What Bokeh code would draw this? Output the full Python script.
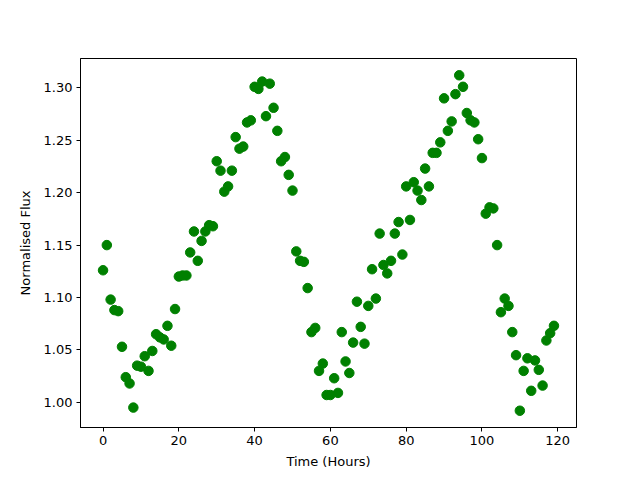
from bokeh.plotting import figure
from bokeh.models import Range1d, FixedTicker, NumeralTickFormatter, ColumnDataSource
from bokeh.embed import file_html
from bokeh.resources import INLINE

hours = list(range(120))
flux = [
    1.126, 1.150, 1.098, 1.088, 1.087, 1.053, 1.024, 1.018, 0.995, 1.035,
    1.034, 1.044, 1.030, 1.049, 1.065, 1.062, 1.060, 1.073, 1.054, 1.089,
    1.120, 1.121, 1.121, 1.143, 1.163, 1.135, 1.154, 1.163, 1.169, 1.168,
    1.230, 1.221, 1.201, 1.206, 1.221, 1.253, 1.242, 1.244, 1.267, 1.269,
    1.301, 1.299, 1.306, 1.273, 1.304, 1.281, 1.259, 1.230, 1.234, 1.217,
    1.202, 1.144, 1.135, 1.134, 1.109, 1.067, 1.071, 1.030, 1.037, 1.007,
    1.007, 1.023, 1.009, 1.067, 1.039, 1.028, 1.057, 1.096, 1.072, 1.056,
    1.092, 1.127, 1.099, 1.161, 1.131, 1.123, 1.135, 1.161, 1.172, 1.141,
    1.206, 1.174, 1.210, 1.202, 1.193, 1.223, 1.206, 1.238, 1.238, 1.248,
    1.290, 1.259, 1.268, 1.294, 1.312, 1.301, 1.276, 1.269, 1.267, 1.251,
    1.233, 1.180, 1.186, 1.185, 1.150, 1.086, 1.099, 1.092, 1.067, 1.045,
    0.992, 1.030, 1.042, 1.011, 1.040, 1.031, 1.016, 1.059, 1.066, 1.073,
]
x_ticks = [0, 20, 40, 60, 80, 100, 120]
y_ticks = [1.00, 1.05, 1.10, 1.15, 1.20, 1.25, 1.30]

src = ColumnDataSource(dict(x=hours, y=flux))

p = figure(width=640, height=480, output_backend="svg", toolbar_location=None,
           x_range=Range1d(-5.95, 124.95), y_range=Range1d(0.976, 1.328),
           min_border_left=80, min_border_right=64, min_border_top=58, min_border_bottom=53)
p.scatter("x", "y", source=src, size=9.5, color="#008000")

p.xgrid.visible = False
p.ygrid.visible = False
p.outline_line_color = "black"
p.outline_line_width = 1
p.outline_line_alpha = 1

p.xaxis.ticker = FixedTicker(ticks=x_ticks)
p.yaxis.ticker = FixedTicker(ticks=y_ticks)
p.yaxis.formatter = NumeralTickFormatter(format="0.00")
p.xaxis.axis_label = "Time (Hours)"
p.yaxis.axis_label = "Normalised Flux"
for ax in (p.xaxis, p.yaxis):
    ax.axis_line_color = "black"
    ax.major_tick_in = 0
    ax.major_tick_out = 4
    ax.minor_tick_line_color = None
    ax.major_label_text_font = "DejaVu Sans"
    ax.major_label_text_font_size = "13px"
    ax.major_label_text_color = "black"
    ax.axis_label_text_font = "DejaVu Sans"
    ax.axis_label_text_font_size = "13px"
    ax.axis_label_text_font_style = "normal"
    ax.axis_label_text_color = "black"
p.xaxis.axis_label_standoff = 6
p.yaxis.axis_label_standoff = 8
p.xaxis.major_label_standoff = 4
p.yaxis.major_label_standoff = 4

open("out.html", "w").write(file_html(p, INLINE))
